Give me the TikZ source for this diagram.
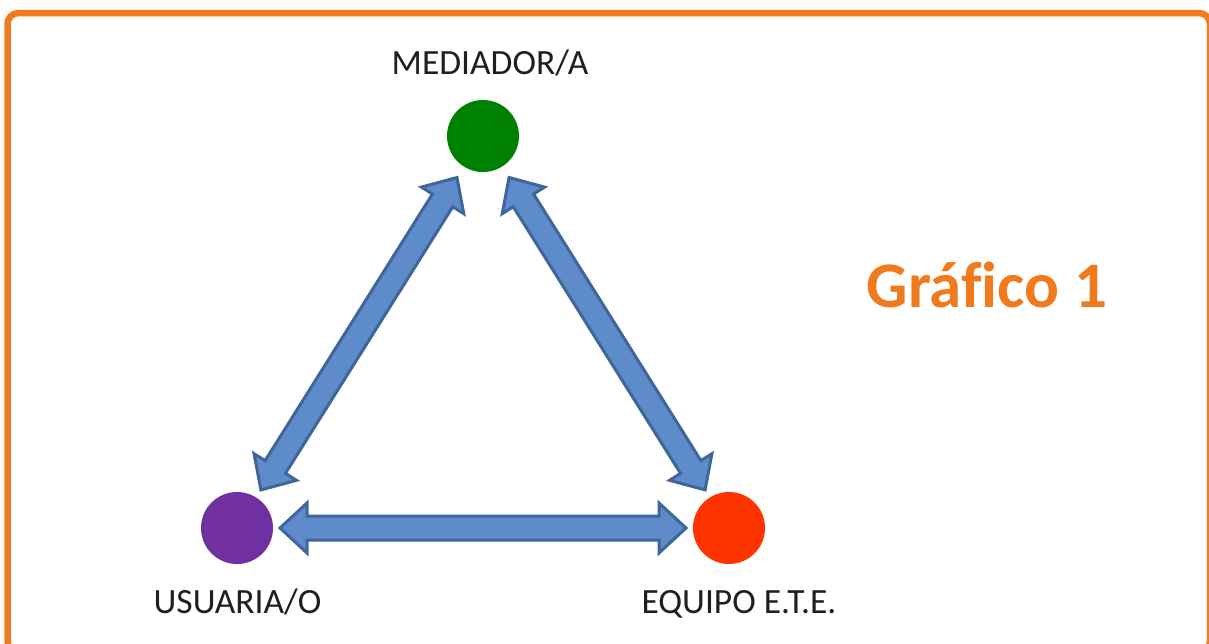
\documentclass[tikz,border=0pt]{standalone}
\usepackage{fontspec}
\setmainfont{Carlito}
\usetikzlibrary{calc}
\definecolor{frameor}{HTML}{F07B1F}
\definecolor{arrfill}{HTML}{5E8CCB}
\definecolor{arredge}{HTML}{3F6698}
\definecolor{medgreen}{HTML}{008000}
\definecolor{usupurple}{HTML}{7030A0}
\definecolor{equred}{HTML}{FF3300}
\newcommand\blockarrowpath[2]{%
  \draw[blockarrow] (#1)
    -- ($(#1)!27pt!(#2)!25pt!90:(#2)$)
    -- ($(#1)!27pt!(#2)!12pt!90:(#2)$)
    -- ($(#2)!27pt!(#1)!12pt!-90:(#1)$)
    -- ($(#2)!27pt!(#1)!25pt!-90:(#1)$)
    -- (#2)
    -- ($(#2)!27pt!(#1)!25pt!90:(#1)$)
    -- ($(#2)!27pt!(#1)!12pt!90:(#1)$)
    -- ($(#1)!27pt!(#2)!12pt!-90:(#2)$)
    -- ($(#1)!27pt!(#2)!25pt!-90:(#2)$)
    -- cycle;}
\begin{document}
\begin{tikzpicture}[x=1pt,y=-1pt,
  dot/.style={circle,inner sep=0pt,minimum size=72pt},
  blockarrow/.style={fill=arrfill,draw=arredge,line width=3pt,line join=miter},
  lab/.style={font=\fontsize{35.5}{40}\selectfont,text=black!88,anchor=base,inner sep=0pt},
  titlelab/.style={font=\fontsize{65}{70}\selectfont\bfseries\addfontfeature{Ligatures=NoCommon},text=frameor,anchor=base,inner sep=0pt}]
\useasboundingbox (0,0) rectangle (1209,643);
\clip (0,0) rectangle (1209,643);
\fill[white] (0,0) rectangle (1209,643);
\draw[frameor,line width=6.5pt,rounded corners=11pt] (7.5,13) rectangle (1210,652);
\node[dot,fill=medgreen] (med) at (483,136) {};
\node[dot,fill=usupurple] (usu) at (237,528) {};
\node[dot,fill=equred] (equ) at (729,528) {};
\coordinate (a1) at ($(med.center)!49pt!(usu.center)$);
\coordinate (a2) at ($(usu.center)!45pt!(med.center)$);
\coordinate (b1) at ($(med.center)!49pt!(equ.center)$);
\coordinate (b2) at ($(equ.center)!45pt!(med.center)$);
\coordinate (c1) at ($(usu.center)!43pt!(equ.center)$);
\coordinate (c2) at ($(equ.center)!43pt!(usu.center)$);
\blockarrowpath{a1}{a2}
\blockarrowpath{b1}{b2}
\blockarrowpath{c1}{c2}
\node[lab] (lmed) at (490,74) {MEDIADOR/A};
\node[lab] (lusu) at (237.5,613) {USUARIA/O};
\node[lab] (lequ) at (739,613) {EQUIPO E.T.E.};
\node[titlelab] (title) at (987,307) {Gráfico 1};
\end{tikzpicture}
\end{document}
